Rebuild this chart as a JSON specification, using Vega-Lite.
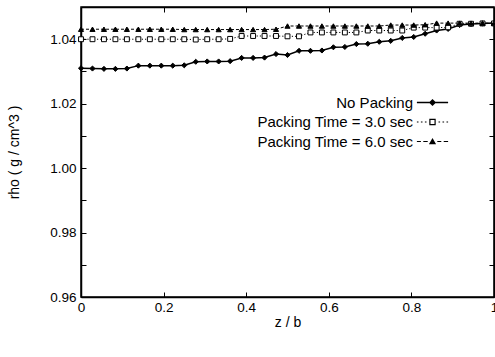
{
  "$schema": "https://vega.github.io/schema/vega-lite/v6.json",
  "width": 413,
  "height": 290,
  "autosize": "none",
  "padding": {"left": 81, "top": 7, "right": 1, "bottom": 60},
  "background": "white",
  "config": {
    "font": "Liberation Sans",
    "view": {"stroke": "black", "strokeWidth": 1.5},
    "axis": {
      "grid": false,
      "domainColor": "black",
      "domainWidth": 1.5,
      "tickColor": "black",
      "tickWidth": 1,
      "tickSize": -5,
      "labelColor": "black",
      "labelFontSize": 13.5,
      "titleColor": "black",
      "titleFontSize": 14,
      "titleFontWeight": "normal"
    }
  },
  "data": {
    "values": [
      {"z": 0, "rho": 1.031, "s": "No Packing"},
      {"z": 0.0278, "rho": 1.0309, "s": "No Packing"},
      {"z": 0.0556, "rho": 1.0308, "s": "No Packing"},
      {"z": 0.0833, "rho": 1.0308, "s": "No Packing"},
      {"z": 0.1111, "rho": 1.0309, "s": "No Packing"},
      {"z": 0.1389, "rho": 1.0318, "s": "No Packing"},
      {"z": 0.1667, "rho": 1.0318, "s": "No Packing"},
      {"z": 0.1944, "rho": 1.0318, "s": "No Packing"},
      {"z": 0.2222, "rho": 1.0318, "s": "No Packing"},
      {"z": 0.25, "rho": 1.0319, "s": "No Packing"},
      {"z": 0.2778, "rho": 1.033, "s": "No Packing"},
      {"z": 0.3056, "rho": 1.0331, "s": "No Packing"},
      {"z": 0.3333, "rho": 1.0331, "s": "No Packing"},
      {"z": 0.3611, "rho": 1.0332, "s": "No Packing"},
      {"z": 0.3889, "rho": 1.0342, "s": "No Packing"},
      {"z": 0.4167, "rho": 1.0342, "s": "No Packing"},
      {"z": 0.4444, "rho": 1.0343, "s": "No Packing"},
      {"z": 0.4722, "rho": 1.0354, "s": "No Packing"},
      {"z": 0.5, "rho": 1.0351, "s": "No Packing"},
      {"z": 0.5278, "rho": 1.0364, "s": "No Packing"},
      {"z": 0.5556, "rho": 1.0364, "s": "No Packing"},
      {"z": 0.5833, "rho": 1.0365, "s": "No Packing"},
      {"z": 0.6111, "rho": 1.0375, "s": "No Packing"},
      {"z": 0.6389, "rho": 1.0376, "s": "No Packing"},
      {"z": 0.6667, "rho": 1.0385, "s": "No Packing"},
      {"z": 0.6944, "rho": 1.0386, "s": "No Packing"},
      {"z": 0.7222, "rho": 1.0392, "s": "No Packing"},
      {"z": 0.75, "rho": 1.0395, "s": "No Packing"},
      {"z": 0.7778, "rho": 1.0404, "s": "No Packing"},
      {"z": 0.8056, "rho": 1.0407, "s": "No Packing"},
      {"z": 0.8333, "rho": 1.0417, "s": "No Packing"},
      {"z": 0.8611, "rho": 1.0427, "s": "No Packing"},
      {"z": 0.8889, "rho": 1.0432, "s": "No Packing"},
      {"z": 0.9167, "rho": 1.0444, "s": "No Packing"},
      {"z": 0.9444, "rho": 1.0447, "s": "No Packing"},
      {"z": 0.9722, "rho": 1.0449, "s": "No Packing"},
      {"z": 1, "rho": 1.045, "s": "No Packing"},

      {"z": 0, "rho": 1.04, "s": "Packing Time = 3.0 sec"},
      {"z": 0.0278, "rho": 1.04, "s": "Packing Time = 3.0 sec"},
      {"z": 0.0556, "rho": 1.04, "s": "Packing Time = 3.0 sec"},
      {"z": 0.0833, "rho": 1.04, "s": "Packing Time = 3.0 sec"},
      {"z": 0.1111, "rho": 1.04, "s": "Packing Time = 3.0 sec"},
      {"z": 0.1389, "rho": 1.04, "s": "Packing Time = 3.0 sec"},
      {"z": 0.1667, "rho": 1.04, "s": "Packing Time = 3.0 sec"},
      {"z": 0.1944, "rho": 1.04, "s": "Packing Time = 3.0 sec"},
      {"z": 0.2222, "rho": 1.04, "s": "Packing Time = 3.0 sec"},
      {"z": 0.25, "rho": 1.04, "s": "Packing Time = 3.0 sec"},
      {"z": 0.2778, "rho": 1.0399, "s": "Packing Time = 3.0 sec"},
      {"z": 0.3056, "rho": 1.04, "s": "Packing Time = 3.0 sec"},
      {"z": 0.3333, "rho": 1.04, "s": "Packing Time = 3.0 sec"},
      {"z": 0.3611, "rho": 1.0401, "s": "Packing Time = 3.0 sec"},
      {"z": 0.3889, "rho": 1.041, "s": "Packing Time = 3.0 sec"},
      {"z": 0.4167, "rho": 1.041, "s": "Packing Time = 3.0 sec"},
      {"z": 0.4444, "rho": 1.041, "s": "Packing Time = 3.0 sec"},
      {"z": 0.4722, "rho": 1.041, "s": "Packing Time = 3.0 sec"},
      {"z": 0.5, "rho": 1.0409, "s": "Packing Time = 3.0 sec"},
      {"z": 0.5278, "rho": 1.0409, "s": "Packing Time = 3.0 sec"},
      {"z": 0.5556, "rho": 1.0421, "s": "Packing Time = 3.0 sec"},
      {"z": 0.5833, "rho": 1.0421, "s": "Packing Time = 3.0 sec"},
      {"z": 0.6111, "rho": 1.0421, "s": "Packing Time = 3.0 sec"},
      {"z": 0.6389, "rho": 1.0421, "s": "Packing Time = 3.0 sec"},
      {"z": 0.6667, "rho": 1.0421, "s": "Packing Time = 3.0 sec"},
      {"z": 0.6944, "rho": 1.0427, "s": "Packing Time = 3.0 sec"},
      {"z": 0.7222, "rho": 1.0427, "s": "Packing Time = 3.0 sec"},
      {"z": 0.75, "rho": 1.0427, "s": "Packing Time = 3.0 sec"},
      {"z": 0.7778, "rho": 1.0427, "s": "Packing Time = 3.0 sec"},
      {"z": 0.8056, "rho": 1.0436, "s": "Packing Time = 3.0 sec"},
      {"z": 0.8333, "rho": 1.0436, "s": "Packing Time = 3.0 sec"},
      {"z": 0.8611, "rho": 1.0436, "s": "Packing Time = 3.0 sec"},
      {"z": 0.8889, "rho": 1.0437, "s": "Packing Time = 3.0 sec"},
      {"z": 0.9167, "rho": 1.0448, "s": "Packing Time = 3.0 sec"},
      {"z": 0.9444, "rho": 1.0448, "s": "Packing Time = 3.0 sec"},
      {"z": 0.9722, "rho": 1.0449, "s": "Packing Time = 3.0 sec"},
      {"z": 1, "rho": 1.0449, "s": "Packing Time = 3.0 sec"},

      {"z": 0, "rho": 1.0431, "s": "Packing Time = 6.0 sec"},
      {"z": 0.0278, "rho": 1.0431, "s": "Packing Time = 6.0 sec"},
      {"z": 0.0556, "rho": 1.0431, "s": "Packing Time = 6.0 sec"},
      {"z": 0.0833, "rho": 1.0431, "s": "Packing Time = 6.0 sec"},
      {"z": 0.1111, "rho": 1.0431, "s": "Packing Time = 6.0 sec"},
      {"z": 0.1389, "rho": 1.0431, "s": "Packing Time = 6.0 sec"},
      {"z": 0.1667, "rho": 1.0431, "s": "Packing Time = 6.0 sec"},
      {"z": 0.1944, "rho": 1.0431, "s": "Packing Time = 6.0 sec"},
      {"z": 0.2222, "rho": 1.0431, "s": "Packing Time = 6.0 sec"},
      {"z": 0.25, "rho": 1.043, "s": "Packing Time = 6.0 sec"},
      {"z": 0.2778, "rho": 1.043, "s": "Packing Time = 6.0 sec"},
      {"z": 0.3056, "rho": 1.043, "s": "Packing Time = 6.0 sec"},
      {"z": 0.3333, "rho": 1.043, "s": "Packing Time = 6.0 sec"},
      {"z": 0.3611, "rho": 1.043, "s": "Packing Time = 6.0 sec"},
      {"z": 0.3889, "rho": 1.043, "s": "Packing Time = 6.0 sec"},
      {"z": 0.4167, "rho": 1.043, "s": "Packing Time = 6.0 sec"},
      {"z": 0.4444, "rho": 1.043, "s": "Packing Time = 6.0 sec"},
      {"z": 0.4722, "rho": 1.0431, "s": "Packing Time = 6.0 sec"},
      {"z": 0.5, "rho": 1.0441, "s": "Packing Time = 6.0 sec"},
      {"z": 0.5278, "rho": 1.0441, "s": "Packing Time = 6.0 sec"},
      {"z": 0.5556, "rho": 1.0441, "s": "Packing Time = 6.0 sec"},
      {"z": 0.5833, "rho": 1.0441, "s": "Packing Time = 6.0 sec"},
      {"z": 0.6111, "rho": 1.0441, "s": "Packing Time = 6.0 sec"},
      {"z": 0.6389, "rho": 1.0441, "s": "Packing Time = 6.0 sec"},
      {"z": 0.6667, "rho": 1.0441, "s": "Packing Time = 6.0 sec"},
      {"z": 0.6944, "rho": 1.0441, "s": "Packing Time = 6.0 sec"},
      {"z": 0.7222, "rho": 1.0441, "s": "Packing Time = 6.0 sec"},
      {"z": 0.75, "rho": 1.0444, "s": "Packing Time = 6.0 sec"},
      {"z": 0.7778, "rho": 1.0444, "s": "Packing Time = 6.0 sec"},
      {"z": 0.8056, "rho": 1.0444, "s": "Packing Time = 6.0 sec"},
      {"z": 0.8333, "rho": 1.0445, "s": "Packing Time = 6.0 sec"},
      {"z": 0.8611, "rho": 1.045, "s": "Packing Time = 6.0 sec"},
      {"z": 0.8889, "rho": 1.045, "s": "Packing Time = 6.0 sec"},
      {"z": 0.9167, "rho": 1.045, "s": "Packing Time = 6.0 sec"},
      {"z": 0.9444, "rho": 1.045, "s": "Packing Time = 6.0 sec"},
      {"z": 0.9722, "rho": 1.045, "s": "Packing Time = 6.0 sec"},
      {"z": 1, "rho": 1.045, "s": "Packing Time = 6.0 sec"}
    ]
  },
  "layer": [
    {
      "transform": [{"filter": "datum.s === 'No Packing'"}],
      "mark": {"type": "line", "color": "black", "strokeWidth": 1.5},
      "encoding": {
        "x": {
          "field": "z", "type": "quantitative",
          "scale": {"domain": [0, 1], "nice": false},
          "axis": {"orient": "bottom", "values": [0, 0.2, 0.4, 0.6, 0.8, 1], "format": "~g", "labelPadding": 8, "labelFlush": false, "title": "z / b", "titlePadding": 2}
        },
        "y": {
          "field": "rho", "type": "quantitative",
          "scale": {"domain": [0.96, 1.05], "nice": false, "zero": false},
          "axis": {
            "orient": "left",
            "values": [0.96, 0.97, 0.98, 0.99, 1.0, 1.01, 1.02, 1.03, 1.04],
            "labelExpr": "round(datum.value * 100) % 2 === 0 ? format(datum.value, '.2f') : ''",
            "labelPadding": 10,
            "labelFlush": false,
            "title": "rho ( g / cm^3 )",
            "titlePadding": 28
          }
        }
      }
    },
    {
      "transform": [{"filter": "datum.s === 'Packing Time = 3.0 sec'"}],
      "mark": {"type": "line", "color": "black", "strokeWidth": 1, "strokeDash": [1.2, 2]},
      "encoding": {
        "x": {"field": "z", "type": "quantitative", "axis": null},
        "y": {"field": "rho", "type": "quantitative", "axis": null}
      }
    },
    {
      "transform": [{"filter": "datum.s === 'Packing Time = 6.0 sec'"}],
      "mark": {"type": "line", "color": "black", "strokeWidth": 1, "strokeDash": [3, 2]},
      "encoding": {
        "x": {"field": "z", "type": "quantitative", "axis": null},
        "y": {"field": "rho", "type": "quantitative", "axis": null}
      }
    },
    {
      "transform": [{"filter": "datum.s === 'No Packing'"}],
      "mark": {"type": "point", "shape": "diamond", "filled": true, "fill": "black", "stroke": "black", "strokeWidth": 1, "opacity": 1, "size": 26},
      "encoding": {
        "x": {
          "field": "z", "type": "quantitative",
          "axis": {"orient": "top", "values": [0.2, 0.4, 0.6, 0.8], "labels": false, "title": null}
        },
        "y": {
          "field": "rho", "type": "quantitative",
          "axis": {"orient": "right", "values": [0.97, 0.98, 0.99, 1.0, 1.01, 1.02, 1.03, 1.04], "labels": false, "title": null}
        }
      }
    },
    {
      "transform": [{"filter": "datum.s === 'Packing Time = 3.0 sec'"}],
      "mark": {"type": "point", "shape": "square", "filled": true, "fill": "white", "stroke": "black", "strokeWidth": 1, "opacity": 1, "size": 24},
      "encoding": {
        "x": {"field": "z", "type": "quantitative", "axis": null},
        "y": {"field": "rho", "type": "quantitative", "axis": null}
      }
    },
    {
      "transform": [{"filter": "datum.s === 'Packing Time = 6.0 sec'"}],
      "mark": {"type": "point", "shape": "triangle-up", "filled": true, "fill": "black", "stroke": "black", "strokeWidth": 1, "opacity": 1, "size": 26},
      "encoding": {
        "x": {"field": "z", "type": "quantitative", "axis": null},
        "y": {"field": "rho", "type": "quantitative", "axis": null}
      }
    },
    {
      "transform": [{"filter": "false"}],
      "mark": {"type": "point", "filled": true, "color": "black", "stroke": "black", "strokeWidth": 1, "opacity": 1},
      "encoding": {
        "x": {"field": "z", "type": "quantitative", "axis": null},
        "y": {"field": "rho", "type": "quantitative", "axis": null},
        "shape": {
          "field": "s", "type": "nominal",
          "scale": {
            "domain": ["No Packing", "Packing Time = 3.0 sec", "Packing Time = 6.0 sec"],
            "range": [
              "M-1.95,-0.09H1.95V0.09H-1.95ZM0,-0.45L0.45,0L0,0.45L-0.45,0Z",
              "M-1.95,-0.07H-1.75V0.07H-1.95ZM-1.45,-0.07H-1.25V0.07H-1.45ZM-0.95,-0.07H-0.75V0.07H-0.95ZM-0.4,-0.4H0.4V0.4H-0.4ZM-0.25,-0.25V0.25H0.25V-0.25ZM0.75,-0.07H0.95V0.07H0.75ZM1.25,-0.07H1.45V0.07H1.25ZM1.75,-0.07H1.95V0.07H1.75Z",
              "M-1.95,-0.07H-1.45V0.07H-1.95ZM-1.15,-0.07H-0.6V0.07H-1.15ZM-0.45,0.35L0,-0.45L0.45,0.35ZM0.6,-0.07H1.1V0.07H0.6ZM1.4,-0.07H1.95V0.07H1.4Z"
            ]
          },
          "legend": {
            "orient": "none",
            "legendX": 343,
            "legendY": 87,
            "title": null,
            "padding": 0,
            "labelFontSize": 15,
            "labelColor": "black",
            "labelAlign": "right",
            "labelOffset": -28,
            "symbolSize": 256,
            "rowPadding": 2.5,
            "symbolStrokeWidth": 1,
            "symbolStrokeColor": "black",
            "symbolFillColor": "black",
            "symbolOpacity": 1
          }
        }
      }
    }
  ],
  "resolve": {"axis": {"x": "independent", "y": "independent"}}
}
